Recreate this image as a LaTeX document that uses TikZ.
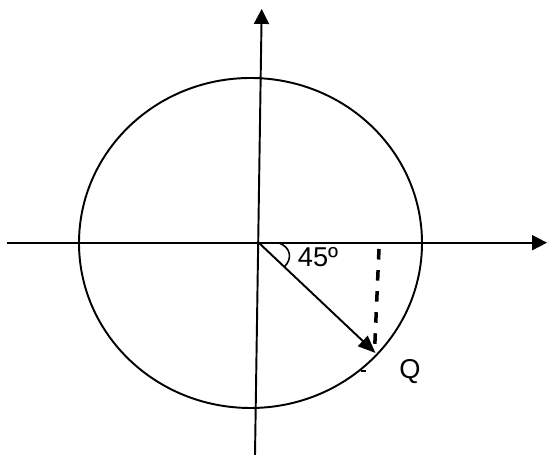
\documentclass[tikz,border=0pt]{standalone}
\usepackage{fontspec}
\setmainfont{Liberation Sans}
\usetikzlibrary{calc,arrows.meta}

\begin{document}
\begin{tikzpicture}[line width=1.1pt,
  axisarrow/.style={-{Triangle[length=8.5pt, width=8.5pt]}},
  dashline/.style={line width=2pt, dash pattern=on 6pt off 6pt},
  lbl/.style={font=\fontsize{15.5}{18}\selectfont, anchor=base, inner sep=0pt}]
  \useasboundingbox (0,0) rectangle (10.94,9.1);
  % Named points
  \coordinate (O) at (5.17,4.25);
  \coordinate (Xl) at (0.14,4.246);
  \coordinate (Xr) at (10.94,4.246);
  \coordinate (Yb) at (5.10,0);
  \coordinate (Yt) at (5.234,8.92);
  \coordinate (Q) at (7.51,2.04);
  \coordinate (D1) at (7.58,4.12);
  \coordinate (D2) at (7.49,2.06);

  % Circle
  \draw (5.01,4.24) ellipse [x radius=3.43, y radius=3.30];

  % Axes
  \draw[axisarrow] (Xl) -- (Xr);
  \draw[axisarrow] (Yb) -- (Yt);

  % Radius to Q
  \draw[-{Triangle[length=10pt, width=8pt]}] (O) -- (Q);

  % Dashed drop
  \draw[dashline] (D1) -- (D2);

  % Angle mark
  \coordinate (A1) at (5.56,4.246);
  \coordinate (A2) at ($(O)!0.22!(Q)$);
  \draw[line width=0.9pt] (A1) .. controls (5.84,4.16) and (5.84,3.9) .. (A2);
  \node[lbl] (ang) at (6.36,3.76) {45º};

  % Tick and label
  \coordinate (T1) at (7.22,1.68);
  \coordinate (T2) at (7.32,1.68);
  \draw (T1) -- (T2);
  \node[lbl] (lq) at (8.2,1.52) {Q};
\end{tikzpicture}
\end{document}
